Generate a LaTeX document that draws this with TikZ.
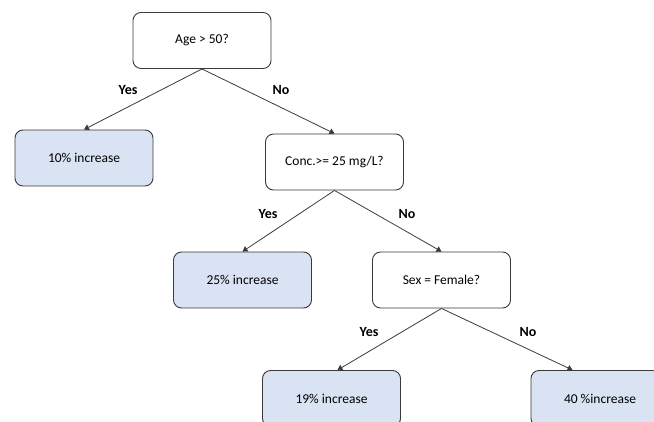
\documentclass[tikz,border=0pt]{standalone}
\usepackage{fontspec}
\setmainfont{Carlito}
\usetikzlibrary{arrows.meta}

\definecolor{leafblue}{HTML}{DAE3F3}
\definecolor{linegrey}{HTML}{3A3A3A}

\begin{document}
\begin{tikzpicture}[x=1pt, y=-1pt]
        \tikzstyle{every node}=[font=\fontsize{13.5}{16}\selectfont]
        \tikzstyle{test}=[draw=linegrey, line width=0.9pt, rounded corners=8pt, minimum width=138pt, minimum height=56pt, inner sep=0pt]
        \tikzstyle{leaf}=[test, fill=leafblue]
        \tikzstyle{branch}=[draw=linegrey, line width=0.8pt, -{Triangle[width=6pt,length=5pt]}]
        \tikzstyle{answer}=[font=\fontsize{14}{17}\selectfont\bfseries]
        \clip (0,0) rectangle (654,421);
        \useasboundingbox (0,0) rectangle (654,421);
        % questions
        \node [test] (age) at (202,40.5) {Age > 50?};
        \node [test] (conc) at (334.5,162) {Conc.>= 25 mg/L?};
        \node [test] (sex) at (441.5,280) {Sex = Female?};
        % outcomes
        \node [leaf] (p10) at (84,158) {10\% increase};
        \node [leaf] (p25) at (242.5,280) {25\% increase};
        \node [leaf] (p19) at (331.5,398.5) {19\% increase};
        \node [leaf] (p40) at (600,398.5) {40 \%increase};
        % edges
        \draw [branch] (age.south) -- (p10.north);
        \draw [branch] (age.south) -- (conc.north);
        \draw [branch] (conc.south) -- (p25.north);
        \draw [branch] (conc.south) -- (sex.north);
        \draw [branch] (sex.south) -- ([xshift=6pt]p19.north);
        \draw [branch] (sex.south) -- ([xshift=42pt]p40.north west);
        % labels
        \node [answer] (a1) at (128,90) {Yes};
        \node [answer] (a2) at (281,90) {No};
        \node [answer] (a3) at (268,214) {Yes};
        \node [answer] (a4) at (407,214) {No};
        \node [answer] (a5) at (369,332) {Yes};
        \node [answer] (a6) at (528,332) {No};
    \end{tikzpicture}
\end{document}
